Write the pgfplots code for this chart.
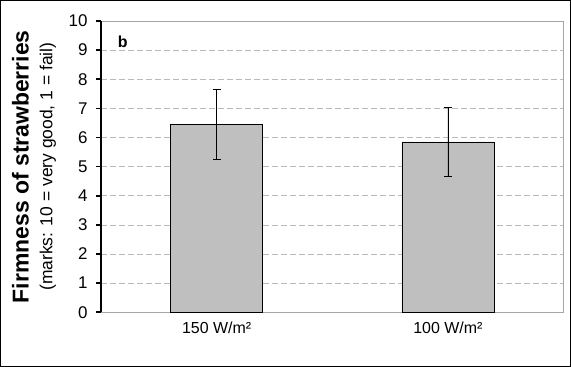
\documentclass[border=0pt]{standalone}
\usepackage{pgfplots}
\pgfplotsset{compat=1.18}
\usepackage{fontspec}
\setmainfont{Liberation Sans}
\begin{document}
\begin{tikzpicture}
\begin{axis}[
  name=ax,
  scale only axis,
  width=462bp, height=291bp,
  xmin=-0.5, xmax=1.5,
  ymin=0, ymax=10,
  ytick={0,1,...,10},
  xtick={0,1},
  xticklabels={150 W/m², 100 W/m²},
  x tick label style={font=\fontsize{16}{18}\selectfont, yshift=-1bp},
  y tick label style={font=\fontsize{17}{19}\selectfont, xshift=-5bp},
  /pgf/number format/assume math mode=true,
  major x tick style={draw=none},
  ytick style={black, line width=1.6bp},
  ytick pos=left,
  tick align=outside,
  major tick length=5bp,
  ymajorgrids,
  grid style={gray!55, dashed, dash pattern=on 6bp off 3bp, line width=0.6bp},
  axis line style={gray!70, line width=0.7bp},
  ybar,
  bar width=92bp,
  clip=false,
]
\addplot[fill=black!25, draw=black, line width=0.7bp,
  error bars/.cd, y dir=both, y explicit,
  error bar style={black, line width=0.7bp},
  error mark options={rotate=90, mark size=4bp, line width=0.7bp}]
  coordinates {(0,6.45) +- (0,1.20) (1,5.85) +- (0,1.19)};
\draw[black, line width=2.2bp] (rel axis cs:0,0) -- (rel axis cs:0,1);
\node[font=\bfseries\fontsize{16}{18}\selectfont] at (axis description cs:0.047,0.928) {b};
\end{axis}
\node[rotate=90, align=center, font=\fontsize{20}{24}\selectfont] at ([xshift=-67bp]ax.west)
  {{\bfseries\fontsize{23}{24}\selectfont Firmness of strawberries}\\{\fontsize{17.5}{24}\selectfont (marks: 10 = very good, 1 = fail)}};
\draw[black, line width=1bp] ([shift={(-100.5bp,-54bp)}]ax.south west) rectangle ([shift={(7bp,20.5bp)}]ax.north east);
\end{tikzpicture}
\end{document}
